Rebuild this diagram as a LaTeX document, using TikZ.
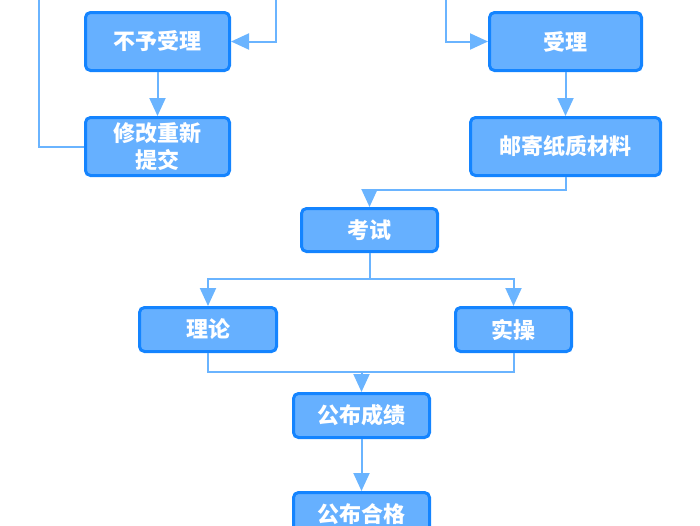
\documentclass[tikz,border=0pt]{standalone}
\usepackage{fontspec}
\newfontfamily\cjk{Noto Sans CJK SC}
\usetikzlibrary{arrows.meta}
\definecolor{boxfill}{HTML}{66B0FF}
\definecolor{boxline}{HTML}{1484FF}
\definecolor{conn}{HTML}{6AB4FF}
\tikzset{
  box/.style={draw=boxline, fill=boxfill, line width=3pt, rounded corners=5pt,
    text=white, font=\cjk\bfseries\fontsize{22}{27}\selectfont, align=center,
    inner sep=0pt},
  link/.style={draw=conn, line width=2pt},
  arr/.style={link, -{Triangle[length=18pt,width=16pt]}},
}
\begin{document}
\begin{tikzpicture}[x=1pt,y=-1pt]
\useasboundingbox (0,0) rectangle (700,525);
\clip (0,0) rectangle (700,525);
\node[box, minimum width=144pt, minimum height=58pt] (n1) at (157.5,41.5) {不予受理};
\node[box, minimum width=144pt, minimum height=58pt] (n2) at (157.5,146.5) {修改重新\\提交};
\node[box, minimum width=152pt, minimum height=58pt] (n3) at (565.5,41.5) {受理};
\node[box, minimum width=190pt, minimum height=58pt] (n4) at (565.5,146.5) {邮寄纸质材料};
\node[box, minimum width=136pt, minimum height=43pt] (n5) at (369.5,230) {考试};
\node[box, minimum width=137pt, minimum height=44pt] (n6) at (208,329.5) {理论};
\node[box, minimum width=116pt, minimum height=44pt] (n7) at (513.5,329.5) {实操};
\node[box, minimum width=136pt, minimum height=44pt] (n8) at (361.5,415.5) {公布成绩};
\node[box, minimum width=136pt, minimum height=44pt] (n9) at (361.5,514.5) {公布合格};
\coordinate (tl) at (39,-10);
\coordinate (tm) at (276,-10);
\coordinate (tr) at (446,-10);
\coordinate (m) at (361.5,372);
\draw[link] (tl) |- (n2.west);
\draw[arr] (tm) |- (n1.east);
\draw[arr] (tr) |- (n3.west);
\draw[arr] (n1) -- (n2);
\draw[arr] (n3) -- (n4);
\draw[arr] (n4.south) -- ++(0,13) -| (n5.north);
\draw[arr] (n5.south) -- ++(0,26) -| (n6.north);
\draw[arr] (n5.south) -- ++(0,26) -| (n7.north);
\draw[link] (n6.south) |- (m) -| (n7.south);
\draw[arr] (m) -- (n8.north);
\draw[arr] (n8) -- (n9);
\end{tikzpicture}
\end{document}
